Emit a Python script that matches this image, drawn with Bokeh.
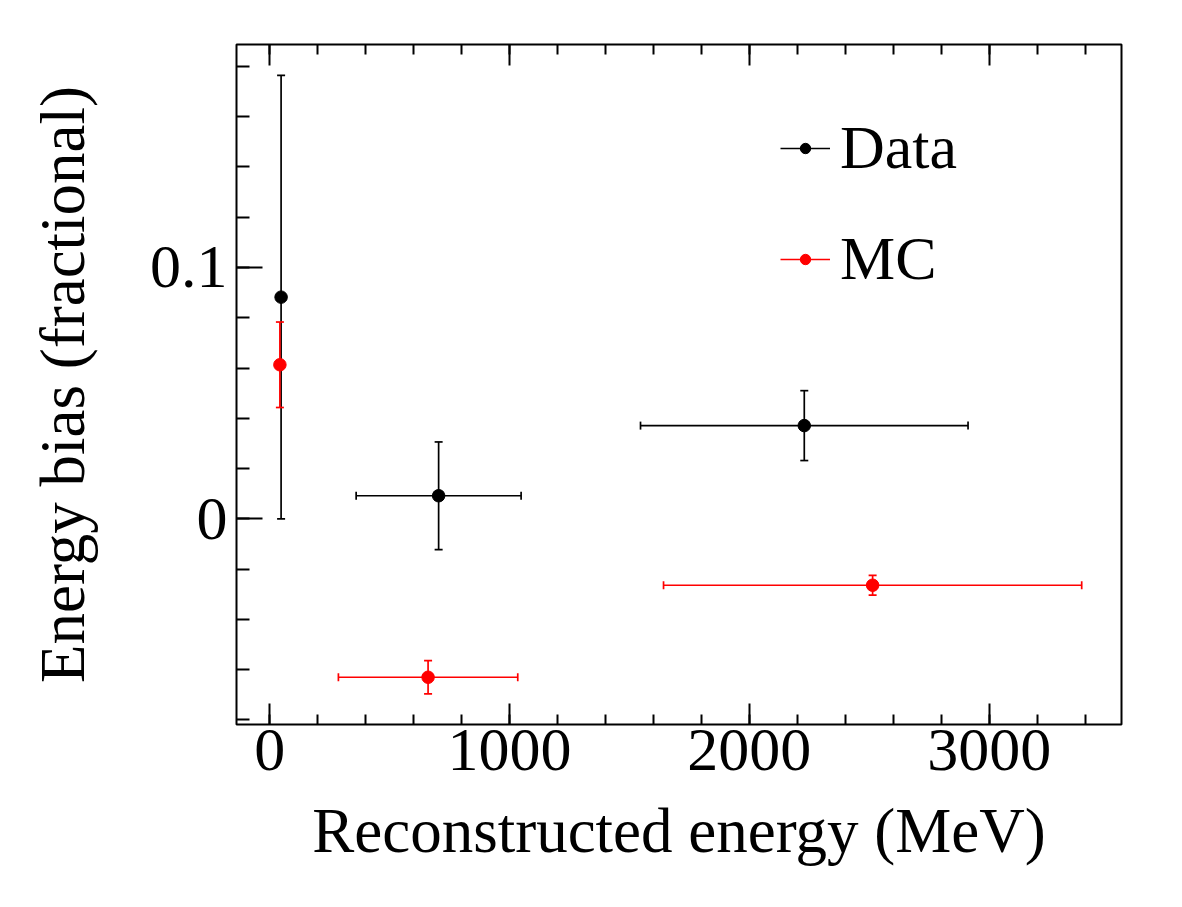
import math
from bokeh.plotting import figure
from bokeh.models import (Range1d, LinearAxis, SingleIntervalTicker, CustomJSTickFormatter,
                          Legend, LegendItem)
from bokeh.embed import file_html
from bokeh.resources import INLINE

# ---- data ----
data_x = [47, 704, 2229]
data_y = [0.0882, 0.0092, 0.0371]
data_xerr = [0, 344, 683]
data_yerr = [0.0882, 0.0214, 0.0139]

mc_x = [42, 660, 2514]
mc_y = [0.0613, -0.0630, -0.0264]
mc_xerr = [0, 374, 872]
mc_yerr = [0.0170, 0.0066, 0.0039]

x_ticks = [0, 1000, 2000, 3000]
y_ticks = [0.0, 0.1]

FONT = "Liberation Serif"

p = figure(width=1182, height=907, output_backend="svg", toolbar_location=None,
           x_range=Range1d(-139, 3552), y_range=Range1d(-0.0818, 0.1887),
           x_axis_location=None, y_axis_location=None,
           min_border_left=236, min_border_right=61, min_border_top=44, min_border_bottom=183)
p.grid.visible = False
p.outline_line_color = "black"
p.outline_line_width = 2
p.background_fill_color = "white"
p.border_fill_color = "white"

def style_axis(ax, major_len, minor_len):
    ax.axis_line_color = None
    ax.major_tick_in = major_len
    ax.major_tick_out = 0
    ax.minor_tick_in = minor_len
    ax.minor_tick_out = 0
    ax.major_tick_line_color = "black"
    ax.minor_tick_line_color = "black"
    ax.major_tick_line_width = 2
    ax.minor_tick_line_width = 2
    ax.major_label_text_font = FONT
    ax.major_label_text_font_size = "62px"
    ax.major_label_text_color = "black"
    ax.axis_label_text_font = FONT
    ax.axis_label_text_font_size = "63px"
    ax.axis_label_text_font_style = "normal"
    ax.axis_label_text_color = "black"

xb = LinearAxis(ticker=SingleIntervalTicker(interval=1000, num_minor_ticks=5),
                axis_label="Reconstructed energy (MeV)")
style_axis(xb, 21, 10)
xb.major_label_standoff = 5
xb.axis_label_standoff = 23
p.add_layout(xb, "below")

xt = LinearAxis(ticker=SingleIntervalTicker(interval=1000, num_minor_ticks=5),
                formatter=CustomJSTickFormatter(code="return ''"))
style_axis(xt, 21, 10)
xt.major_label_text_font_size = "1px"
xt.major_label_standoff = 0
p.add_layout(xt, "above")

yl = LinearAxis(ticker=SingleIntervalTicker(interval=0.1, num_minor_ticks=5),
                formatter=CustomJSTickFormatter(code="return tick == 0 ? '0' : tick.toFixed(1)"),
                axis_label="Energy bias (fractional)")
style_axis(yl, 26, 13)
yl.major_label_standoff = 9
yl.axis_label_standoff = 49
p.add_layout(yl, "left")

def draw(xs, ys, xerr, yerr, color):
    x0 = list(xs) + [x - e for x, e in zip(xs, xerr) if e > 0]
    x1 = list(xs) + [x + e for x, e in zip(xs, xerr) if e > 0]
    y0 = [y - e for y, e in zip(ys, yerr)] + [y for y, e in zip(ys, xerr) if e > 0]
    y1 = [y + e for y, e in zip(ys, yerr)] + [y for y, e in zip(ys, xerr) if e > 0]
    seg = p.segment(x0=x0, y0=y0, x1=x1, y1=y1, line_color=color, line_width=1.7)
    capx = list(xs) + list(xs)
    capy = [y - e for y, e in zip(ys, yerr)] + [y + e for y, e in zip(ys, yerr)]
    p.scatter(capx, capy, marker="dash", size=8, line_color=color, line_width=1.7)
    hx = [x - e for x, e in zip(xs, xerr) if e > 0] + [x + e for x, e in zip(xs, xerr) if e > 0]
    hy = [y for y, e in zip(ys, xerr) if e > 0] * 2
    p.scatter(hx, hy, marker="dash", angle=math.pi / 2, size=8, line_color=color, line_width=1.7)
    pts = p.scatter(xs, ys, marker="circle", size=12.5, fill_color=color, line_color=color)
    return seg, pts

dseg, dpts = draw(data_x, data_y, data_xerr, data_yerr, "black")
mseg, mpts = draw(mc_x, mc_y, mc_xerr, mc_yerr, "#ff0000")

legend = Legend(items=[LegendItem(label="Data", renderers=[dseg, dpts]),
                       LegendItem(label="MC", renderers=[mseg, mpts])],
                location=(544, 430), orientation="vertical")
legend.label_text_font = FONT
legend.label_text_font_size = "62px"
legend.label_text_color = "black"
legend.glyph_width = 50
legend.glyph_height = 26
legend.label_height = 60
legend.spacing = 40
legend.padding = 0
legend.margin = 0
legend.label_standoff = 10
legend.background_fill_alpha = 0
legend.border_line_color = None
p.add_layout(legend, "center")

open("out.html", "w").write(file_html(p, INLINE))
